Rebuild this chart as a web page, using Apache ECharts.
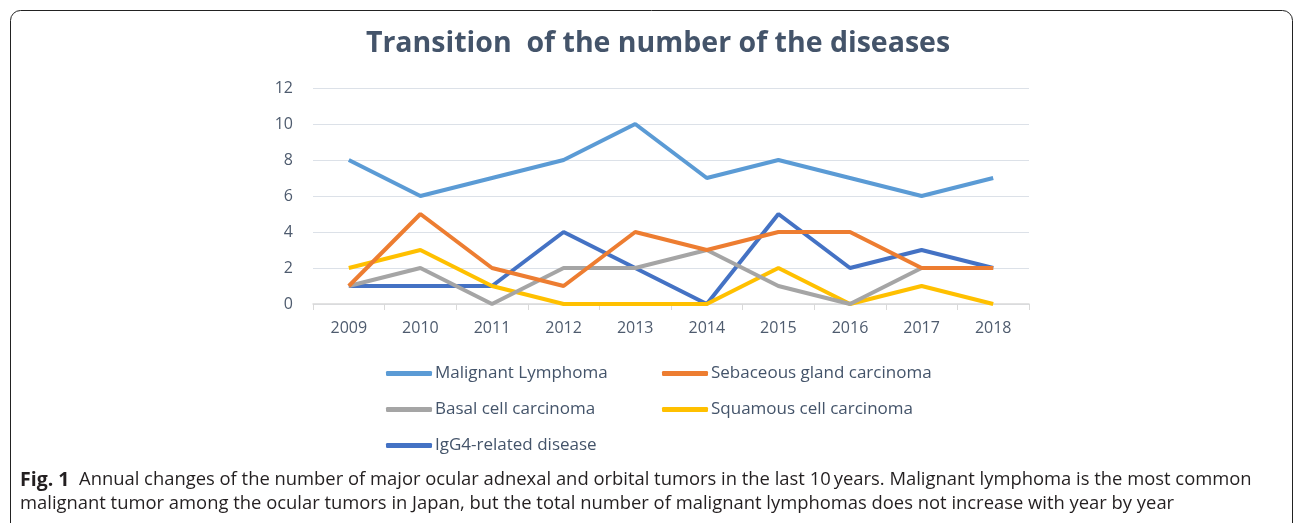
<!DOCTYPE html>
<html>
<head>
<meta charset="utf-8">
<script src="https://cdn.jsdelivr.net/npm/echarts@6/dist/echarts.min.js"></script>
<style>
  html, body { margin: 0; padding: 0; background: #fff; }
  #chart { width: 1295px; height: 523px; }
</style>
</head>
<body>
<div id="chart"></div>
<script>
let years = ['2009', '2010', '2011', '2012', '2013', '2014', '2015', '2016', '2017', '2018'];
let y_ticks = [0, 2, 4, 6, 8, 10, 12];
let malignant_lymphoma = [8, 6, 7, 8, 10, 7, 8, 7, 6, 7];
let sebaceous_gland = [1, 5, 2, 1, 4, 3, 4, 4, 2, 2];
let basal_cell = [1, 2, 0, 2, 2, 3, 1, 0, 2, 2];
let squamous_cell = [2, 3, 1, 0, 0, 0, 2, 0, 1, 0];
let igg4_related = [1, 1, 1, 4, 2, 0, 5, 2, 3, 2];

let names = ['Malignant Lymphoma', 'Sebaceous gland carcinoma', 'Basal cell carcinoma', 'Squamous cell carcinoma', 'IgG4-related disease'];
let colors = ['#5B9BD5', '#ED7D31', '#A5A5A5', '#FFC000', '#4472C4'];
let values = [malignant_lymphoma, sebaceous_gland, basal_cell, squamous_cell, igg4_related];

// 图注文字
let caption_1 = 'Annual changes of the number of major ocular adnexal and orbital tumors in the last 10\u2009years. Malignant lymphoma is the most common';
let caption_2 = 'malignant tumor among the ocular tumors in Japan, but the total number of malignant lymphomas does not increase with year by year';

let chart = echarts.init(document.getElementById('chart'));

let series = names.map((name, i) => ({
	name: name,
	type: 'line',
	data: values[i],
	smooth: false,
	symbol: 'none',
	lineStyle: { width: 4, color: colors[i] },
	itemStyle: { color: colors[i] },
	z: 10 - i,
}));

let legend_base = {
	orient: 'vertical',
	top: 365,
	padding: 0,
	icon: 'roundRect',
	itemWidth: 46,
	itemHeight: 5,
	itemGap: 19,
	textStyle: { fontFamily: 'Open Sans', fontSize: 17, color: '#44546A', padding: [0, 0, 0, -2] },
};

let option = {
	animation: false,
	backgroundColor: '#fff',
	title: {
		text: 'Transition  of the number of the diseases',
		left: 653,
		textAlign: 'center',
		top: 24,
		textStyle: { fontFamily: 'Open Sans', fontWeight: 'bold', fontSize: 28.5, color: '#44546A' },
	},
	grid: { left: 313, right: 266, top: 88, bottom: 219 },
	legend: [
		Object.assign({}, legend_base, { left: 386, data: [names[0], names[2], names[4]] }),
		Object.assign({}, legend_base, { left: 662, data: [names[1], names[3]] }),
	],
	xAxis: {
		type: 'category',
		data: years,
		boundaryGap: true,
		axisLine: { lineStyle: { color: '#D9D9D9', width: 1.5 } },
		axisTick: { show: true, length: 6, lineStyle: { color: '#D9D9D9' } },
		axisLabel: { fontFamily: 'Open Sans', fontSize: 16, color: '#4E5B6E', margin: 16 },
	},
	yAxis: {
		type: 'value',
		min: y_ticks[0],
		max: y_ticks[y_ticks.length - 1],
		interval: 2,
		axisLine: { show: false },
		axisTick: { show: false },
		splitLine: { lineStyle: { color: '#DCE1E8', width: 1.2 } },
		axisLabel: { fontFamily: 'Open Sans', fontSize: 16, color: '#4E5B6E', margin: 20 },
	},
	graphic: [
		{
			type: 'rect',
			shape: { x: 10.5, y: 10.5, width: 1282, height: 540, r: 10 },
			style: { fill: 'none', stroke: '#222', lineWidth: 1 },
			silent: true,
		},
		{
			type: 'text',
			left: 20,
			top: 470,
			style: {
				text: '{b|Fig. 1}  ' + caption_1,
				rich: {
					b: { fontFamily: 'Open Sans', fontWeight: 'bold', fontSize: 19.5, fill: '#231F20' },
				},
				font: '18.4px "Open Sans"',
				fill: '#231F20',
			},
		},
		{
			type: 'text',
			left: 20,
			top: 495,
			style: { text: caption_2, font: '18.4px "Open Sans"', fill: '#231F20' },
		},
	],
	series: series,
};
chart.setOption(option);
</script>
</body>
</html>
